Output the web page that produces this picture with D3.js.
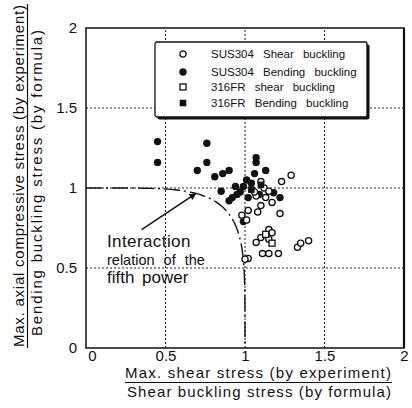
<!DOCTYPE html>
<html>
<head>
<meta charset="utf-8">
<title>Shear / bending buckling interaction</title>
<script src="https://d3js.org/d3.v7.min.js"></script>
<style>
  body { margin: 0; background: #fff; }
  svg text { font-family: "Liberation Sans", Arial, sans-serif; fill: #111; }
</style>
</head>
<body>
<svg id="chart" width="412" height="408"></svg>
<script>
// axis ticks
const xTicks = [0, 0.5, 1, 1.5, 2];
const yTicks = [0, 0.5, 1, 1.5, 2];
const gridVals = [0.5, 1, 1.5];

// [shear ratio, axial ratio]
const sus304Shear = [
  [1.29,1.08],[1.23,1.04],[1.12,1.00],[1.10,1.04],[1.07,0.95],[1.13,0.94],[1.17,0.91],
  [1.10,0.89],[1.06,0.975],[1.15,0.98],[1.22,0.84],[1.08,0.85],[1.02,0.86],[0.98,0.83],
  [1.01,0.80],[1.15,0.74],[1.17,0.72],[1.15,0.68],[1.10,0.69],[1.07,0.66],[1.11,0.59],
  [1.15,0.59],[1.21,0.59],[1.02,0.56],[1.00,0.555],[1.33,0.63],[1.35,0.655],[1.40,0.67]
];
const sus304Bending = [
  [0.45,1.29],[0.45,1.16],[0.76,1.28],[0.76,1.16],[0.70,1.11],[0.81,1.07],[0.86,1.09],
  [0.90,1.11],[0.85,0.98],[0.94,1.01],[0.92,0.94],[0.95,0.96],[0.90,0.92],[0.97,0.975],
  [0.99,1.01],[1.01,1.05],[1.07,1.19],[1.07,1.16],[1.13,1.11],[1.06,1.09],[1.04,1.03],
  [1.02,0.94],[1.09,0.96],[1.18,0.97],[1.22,0.94],[0.99,0.79]
];
const fr316Shear = [[1.17,0.655],[1.13,0.71]];
const fr316Bending = [[1.04,0.99],[1.10,1.02]];

const legendLabels = ["SUS304 Shear buckling", "SUS304 Bending buckling",
                      "316FR shear buckling", "316FR Bending buckling"];
const interactionPower = 5;

const svg = d3.select("#chart");
const margin = {left: 86, right: 8, top: 28, bottom: 60};
const W = 412, H = 408;
const x = d3.scaleLinear().domain([0, 2]).range([margin.left, W - margin.right]);
const y = d3.scaleLinear().domain([0, 2]).range([H - margin.bottom, margin.top]);

// dotted grid
svg.append("g").selectAll("line.gx").data(gridVals).enter().append("line")
  .attr("x1", d => x(d)).attr("x2", d => x(d))
  .attr("y1", y(0)).attr("y2", y(2))
  .attr("stroke", "#222").attr("stroke-width", 1).attr("stroke-dasharray", "2,2");
svg.append("g").selectAll("line.gy").data(gridVals).enter().append("line")
  .attr("y1", d => y(d)).attr("y2", d => y(d))
  .attr("x1", x(0)).attr("x2", x(2))
  .attr("stroke", "#222").attr("stroke-width", 1).attr("stroke-dasharray", "2,2");

// interaction curve x^5 + y^5 = 1, from (0,1) down to (1,0)
const curvePts = d3.range(90, -0.1, -1.5).map(a => {
  const t = a * Math.PI / 180;
  return [Math.pow(Math.max(0, Math.cos(t)), 2 / interactionPower),
          Math.pow(Math.max(0, Math.sin(t)), 2 / interactionPower)];
});
svg.append("path")
  .datum(curvePts)
  .attr("d", d3.line().x(d => x(d[0])).y(d => y(d[1])))
  .attr("fill", "none").attr("stroke", "#111").attr("stroke-width", 1.4)
  .attr("stroke-dasharray", "16,4,2,4");

// frame
svg.append("rect")
  .attr("x", x(0)).attr("y", y(2))
  .attr("width", x(2) - x(0)).attr("height", y(0) - y(2))
  .attr("fill", "none").attr("stroke", "#111").attr("stroke-width", 1.5);
svg.append("line")
  .attr("x1", x(2)).attr("x2", x(2)).attr("y1", y(2)).attr("y2", y(0))
  .attr("stroke", "#111").attr("stroke-width", 2.2);

// axes
const fmt = d => d === 0 ? "0" : d3.format("~g")(d);
const gx = svg.append("g").attr("transform", `translate(0,${y(0)})`)
  .call(d3.axisBottom(x).tickValues(xTicks).tickFormat(fmt).tickSize(0).tickPadding(2.5));
const gy = svg.append("g").attr("transform", `translate(${x(0)},0)`)
  .call(d3.axisLeft(y).tickValues(yTicks).tickFormat(fmt).tickSize(0).tickPadding(9));
[gx, gy].forEach(g => {
  g.select(".domain").remove();
  g.selectAll("text").attr("font-size", 15).attr("font-family", "Liberation Sans, Arial, sans-serif").attr("fill", "#111");
});
gx.selectAll("text").filter(d => d === 0).attr("dx", 6);

// points
svg.append("g").selectAll("circle").data(sus304Bending).enter().append("circle")
  .attr("cx", d => x(d[0])).attr("cy", d => y(d[1])).attr("r", 3.7).attr("fill", "#111");
svg.append("g").selectAll("circle").data(sus304Shear).enter().append("circle")
  .attr("cx", d => x(d[0])).attr("cy", d => y(d[1])).attr("r", 3.1)
  .attr("fill", "#fff").attr("stroke", "#111").attr("stroke-width", 1.3);
svg.append("g").selectAll("rect").data(fr316Bending).enter().append("rect")
  .attr("x", d => x(d[0]) - 3.3).attr("y", d => y(d[1]) - 3.3).attr("width", 6.6).attr("height", 6.6)
  .attr("fill", "#111");
svg.append("g").selectAll("rect").data(fr316Shear).enter().append("rect")
  .attr("x", d => x(d[0]) - 3).attr("y", d => y(d[1]) - 3).attr("width", 6).attr("height", 6)
  .attr("fill", "#fff").attr("stroke", "#111").attr("stroke-width", 1.3);

// legend
const lg = svg.append("g").attr("transform", "translate(155,42)");
lg.append("rect").attr("x", 2.5).attr("y", 2.5).attr("width", 212).attr("height", 75).attr("rx", 2).attr("fill", "#111");
lg.append("rect").attr("width", 212).attr("height", 75).attr("rx", 2)
  .attr("fill", "#fff").attr("stroke", "#111").attr("stroke-width", 1.3);
const rowY = [12, 30, 45, 61];
const rows = lg.selectAll("g.row").data(legendLabels).enter().append("g")
  .attr("transform", (d, i) => `translate(0,${rowY[i]})`);
rows.each(function(d, i) {
  const g = d3.select(this);
  if (i === 0) g.append("circle").attr("cx", 28).attr("r", 3.1).attr("fill", "#fff").attr("stroke", "#111").attr("stroke-width", 1.3);
  if (i === 1) g.append("circle").attr("cx", 28).attr("r", 3.7).attr("fill", "#111");
  if (i === 2) g.append("rect").attr("x", 25).attr("y", -3).attr("width", 6).attr("height", 6).attr("fill", "#fff").attr("stroke", "#111").attr("stroke-width", 1.3);
  if (i === 3) g.append("rect").attr("x", 24.7).attr("y", -3.3).attr("width", 6.6).attr("height", 6.6).attr("fill", "#111");
});
rows.append("text").attr("x", 56).attr("y", 4).attr("font-size", 11.5)
  .attr("word-spacing", 6).text(d => d);

// annotation
const ann = [
  {t: "Interaction", y: 247, size: 17, ls: 0.4, ws: 0},
  {t: "relation of the", y: 265, size: 14.5, ls: 0, ws: 5},
  {t: "fifth power", y: 283, size: 17, ls: 0, ws: 3}
];
svg.append("g").selectAll("text").data(ann).enter().append("text")
  .attr("x", 107).attr("y", d => d.y).attr("font-size", d => d.size)
  .attr("letter-spacing", d => d.ls).attr("word-spacing", d => d.ws).text(d => d.t);
svg.append("defs").append("marker").attr("id", "ah")
  .attr("viewBox", "0 0 10 10").attr("refX", 9).attr("refY", 5)
  .attr("markerWidth", 9).attr("markerHeight", 7).attr("orient", "auto")
  .attr("markerUnits", "userSpaceOnUse")
  .append("path").attr("d", "M0,0 L10,5 L0,10 Z").attr("fill", "#111");
svg.append("line")
  .attr("x1", x(0.35)).attr("y1", y(0.74)).attr("x2", x(0.69)).attr("y2", y(0.965))
  .attr("stroke", "#111").attr("stroke-width", 1.5).attr("marker-end", "url(#ah)");

// axis titles
svg.append("text").attr("x", 258).attr("y", 378).attr("text-anchor", "middle").attr("font-size", 15)
  .attr("textLength", 266).attr("lengthAdjust", "spacing").text("Max. shear stress (by experiment)");
svg.append("line").attr("x1", 125).attr("x2", 392).attr("y1", 382.5).attr("y2", 382.5)
  .attr("stroke", "#111").attr("stroke-width", 1.2);
svg.append("text").attr("x", 259).attr("y", 397).attr("text-anchor", "middle").attr("font-size", 15)
  .attr("textLength", 264).attr("lengthAdjust", "spacing").text("Shear buckling stress (by formula)");

svg.append("text").attr("transform", "translate(24,176) rotate(-90)").attr("text-anchor", "middle")
  .attr("font-size", 15).attr("textLength", 342).attr("lengthAdjust", "spacing")
  .text("Max. axial compressive stress (by experiment)");
svg.append("line").attr("x1", 27.5).attr("x2", 27.5).attr("y1", 4).attr("y2", 348)
  .attr("stroke", "#111").attr("stroke-width", 1.2);
svg.append("text").attr("transform", "translate(42,183) rotate(-90)").attr("text-anchor", "middle")
  .attr("font-size", 15).attr("textLength", 306).attr("lengthAdjust", "spacing")
  .text("Bending buckling stress (by formula)");
</script>
</body>
</html>
